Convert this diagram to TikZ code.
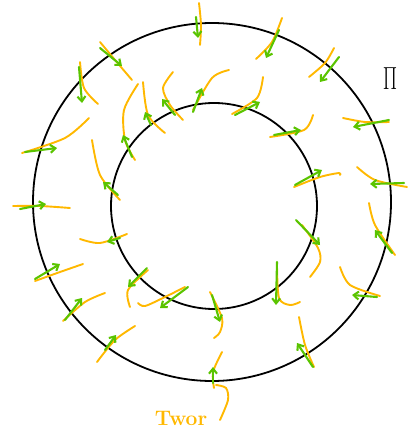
\documentclass[tikz,border=0pt]{standalone}
\usepackage{tikz}
\usetikzlibrary{arrows.meta}
\definecolor{amber}{RGB}{255,184,0}
\definecolor{leaf}{RGB}{90,196,0}

\begin{document}
\begin{tikzpicture}[x=1pt,y=-1pt,line cap=round,line join=round,
 rim/.style={draw=black,line width=1.8pt},
 ink/.style={draw=amber,line width=1.9pt},
 vec/.style={draw=leaf,line width=2.1pt,-{Straight Barb[length=5pt,width=8pt]}}]
 \useasboundingbox (0,0) rectangle (417,435);
 % the annulus
 \draw[rim] (212,202) circle[radius=179pt];
 \draw[rim] (214,206) circle[radius=103pt];
 % orange curves
 \foreach \pts in {
   {(199,3) (201,25) (200,45)},
   {(100,42) (115,60) (132,80)},
   {(80,62) (84,88) (98,104)},
   {(89,118) (65,138) (22,153)},
   {(138,84) (124,110) (125,140) (135,160)},
   {(143,82) (148,115) (165,133)},
   {(173,72) (163,88) (170,105) (183,120)},
   {(229,70) (212,78) (193,110)},
   {(92,140) (100,175) (120,200)},
   {(13,206) (40,206) (70,208)},
   {(282,18) (272,42) (256,59)},
   {(334,48) (325,63) (309,77)},
   {(263,77) (257,98) (232,114)},
   {(313,115) (304,130) (270,137)},
   {(343,118) (365,122) (389,122)},
   {(294,187) (320,177) (339,173) (340,175)},
   {(357,167) (375,180) (407,187)},
   {(369,203) (375,225) (395,255)},
   {(302,225) (318,248) (320,262) (310,277)},
   {(277,265) (279,298) (290,305) (300,302)},
   {(340,267) (350,285) (380,296)},
   {(299,317) (305,345) (314,367)},
   {(210,292) (222,318) (220,332) (214,338)},
   {(222,352) (213,372) (214,388)},
   {(216,385) (226,388) (228,400) (220,420)},
   {(80,239) (100,243) (127,234)},
   {(35,281) (60,272) (83,264)},
   {(63,321) (85,302) (105,293)},
   {(148,270) (128,290) (130,307)},
   {(138,303) (145,306) (165,297) (185,287)},
   {(135,326) (115,340) (97,362)}}
   \draw[ink] plot[smooth] coordinates \pts;
 % green vectors
 \foreach \a/\b in {
   {(196,17)}/{(198,38)}, {(100,48)}/{(122,66)}, {(79,67)}/{(82,103)},
   {(25,152)}/{(57,148)}, {(132,157)}/{(123,135)}, {(151,125)}/{(145,112)},
   {(175,115)}/{(162,99)}, {(193,112)}/{(202,88)}, {(118,195)}/{(103,182)},
   {(20,209)}/{(46,204)}, {(279,30)}/{(266,58)}, {(339,57)}/{(320,82)},
   {(235,115)}/{(260,102)}, {(274,135)}/{(301,130)}, {(389,120)}/{(353,127)},
   {(295,185)}/{(322,170)}, {(404,183)}/{(370,184)}, {(392,253)}/{(375,230)},
   {(296,220)}/{(320,245)}, {(277,262)}/{(276,305)}, {(377,297)}/{(352,295)},
   {(313,367)}/{(297,343)}, {(212,295)}/{(220,322)}, {(213,383)}/{(213,367)},
   {(120,238)}/{(107,242)}, {(35,279)}/{(60,264)}, {(65,320)}/{(82,298)},
   {(147,268)}/{(128,287)}, {(188,287)}/{(160,308)}, {(105,350)}/{(116,335)}}
   \draw[vec] \a -- \b;
 % labels
 \node[font=\LARGE,xscale=1.2,yscale=1.85] (manifold) at (390,79) {$\Pi$};
 \node[text=amber,font=\fontsize{21}{21}\selectfont\bfseries] (work) at (181,418) {Twor};
\end{tikzpicture}
\end{document}
